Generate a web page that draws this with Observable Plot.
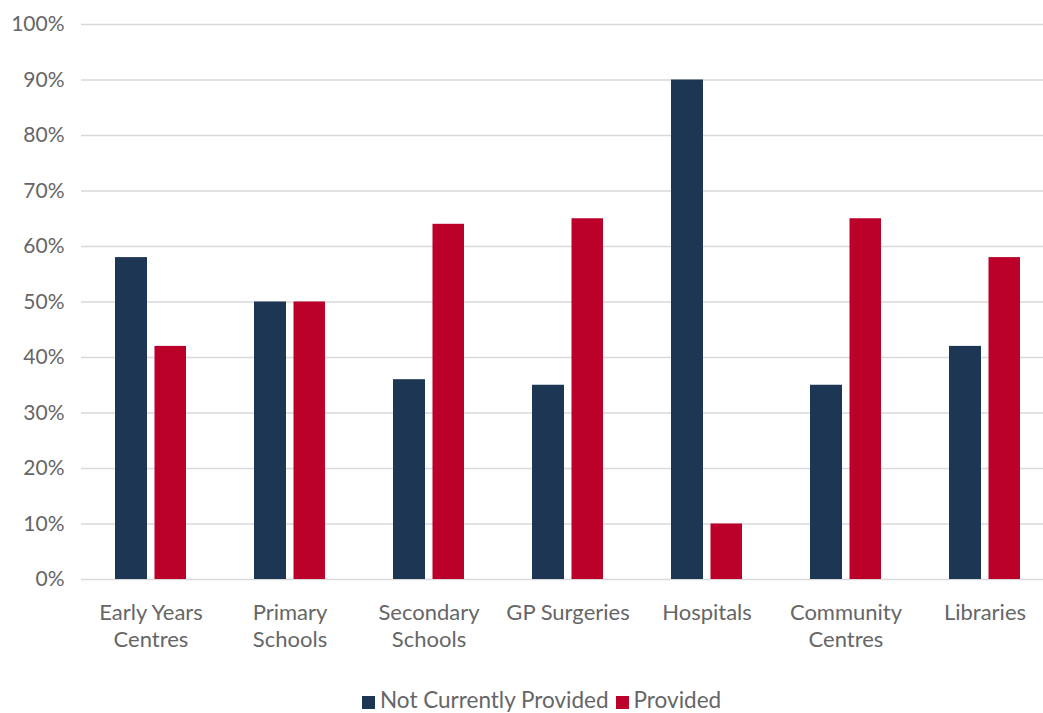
<!DOCTYPE html>
<html>
<head>
<meta charset="utf-8">
<script src="https://cdn.jsdelivr.net/npm/d3@7"></script>
<script src="https://cdn.jsdelivr.net/npm/@observablehq/plot@0.6"></script>
<style>
  html, body { margin: 0; padding: 0; background: #fff; overflow: hidden; }
  #legend { font-family: Lato, sans-serif; font-size: 22.5px; color: #666; line-height: 28px; margin-top: 6px; padding-left: 362px; white-space: nowrap; }
  #legend .sw { display: inline-block; width: 13px; height: 13px; margin-right: 5px; vertical-align: -1px; }
  #legend .item { margin-right: 7px; }
</style>
</head>
<body>
<div id="chart"></div>
<script>
const categories = ["Early Years Centres", "Primary Schools", "Secondary Schools", "GP Surgeries", "Hospitals", "Community Centres", "Libraries"];
const categoryLabels = ["Early Years\nCentres", "Primary\nSchools", "Secondary\nSchools", "GP Surgeries", "Hospitals", "Community\nCentres", "Libraries"];
const series = ["Not Currently Provided", "Provided"];
const notCurrentlyProvided = [0.58, 0.50, 0.36, 0.35, 0.90, 0.35, 0.42];
const provided = [0.42, 0.50, 0.64, 0.65, 0.10, 0.65, 0.58];
const yTicks = [0, 0.1, 0.2, 0.3, 0.4, 0.5, 0.6, 0.7, 0.8, 0.9, 1.0];
const colors = ["#1c3654", "#bb0029"];

const rowsNot = categories.map((c, i) => ({category: c, series: series[0], value: notCurrentlyProvided[i]}));
const rowsProv = categories.map((c, i) => ({category: c, series: series[1], value: provided[i]}));

const chart = Plot.plot({
  width: 1043,
  height: 680,
  marginLeft: 81,
  marginRight: -11,
  marginTop: 24,
  marginBottom: 101,
  style: {fontFamily: "Lato, sans-serif", fontSize: "21px", color: "#666", background: "#fff"},
  x: {domain: categories, padding: 0},
  y: {domain: [0, 1]},
  color: {domain: series, range: colors},
  marks: [
    Plot.gridY(yTicks, {stroke: "#d9d9d9", strokeOpacity: 1, strokeWidth: 1.3}),
    Plot.barY(rowsNot, {x: "category", y: "value", fill: "series", insetLeft: 34, insetRight: 73}),
    Plot.barY(rowsProv, {x: "category", y: "value", fill: "series", insetLeft: 73.5, insetRight: 34}),
    Plot.axisY(yTicks, {tickFormat: d3.format(".0%"), tickSize: 0, tickPadding: 17, fontSize: 21, fill: "#666", label: null}),
    Plot.axisX({tickSize: 0, tickPadding: 21, fontSize: 22, lineHeight: 1.23, fill: "#666", label: null,
      tickFormat: d => categoryLabels[categories.indexOf(d)]})
  ]
});
document.getElementById("chart").appendChild(chart);

const legend = document.createElement("div");
legend.id = "legend";
series.forEach((s, i) => {
  const item = document.createElement("span");
  item.className = "item";
  const sw = document.createElement("span");
  sw.className = "sw";
  sw.style.background = colors[i];
  item.appendChild(sw);
  item.appendChild(document.createTextNode(s));
  legend.appendChild(item);
});
document.body.appendChild(legend);
</script>
</body>
</html>
